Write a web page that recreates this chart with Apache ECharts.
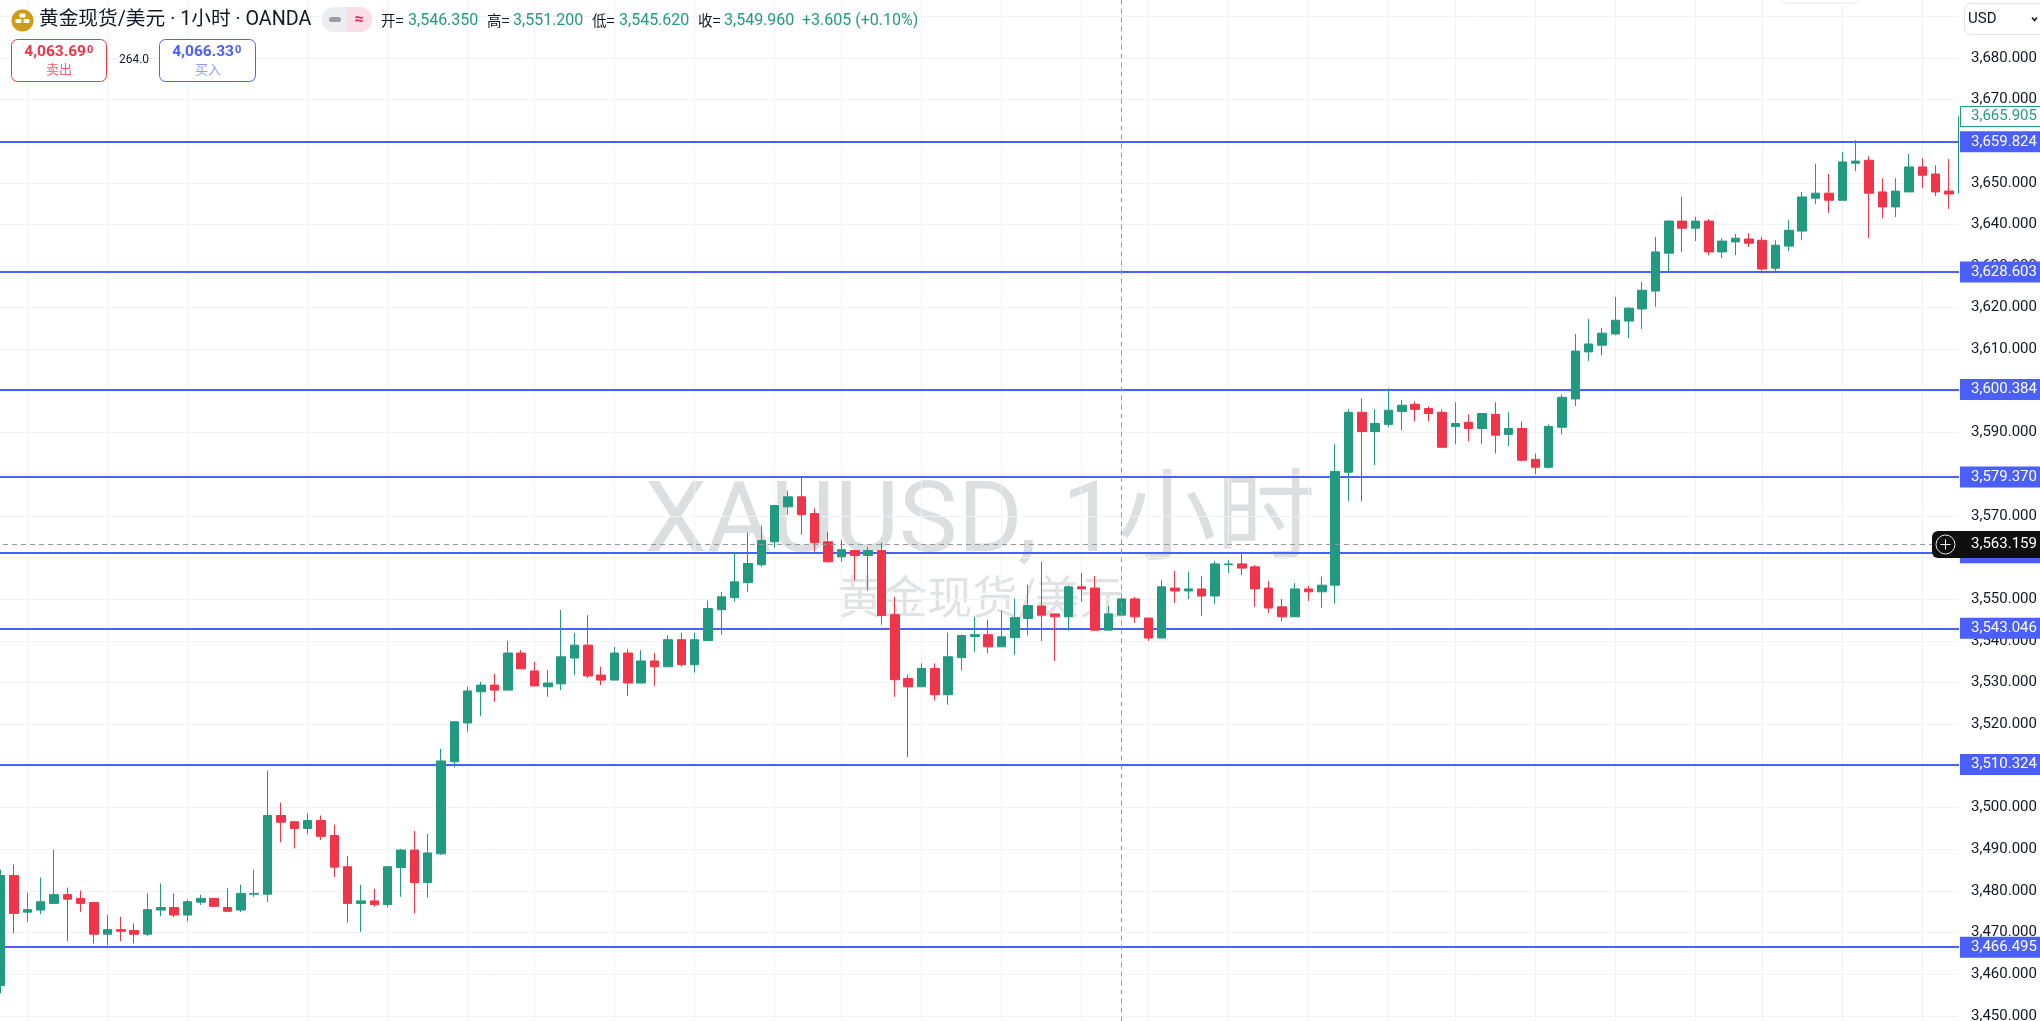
<!DOCTYPE html>
<html>
<head>
<meta charset="utf-8">
<style>html,body{margin:0;padding:0;background:#fff}#c{width:2040px;height:1021px}</style>
<script src="https://cdn.jsdelivr.net/npm/echarts@6/dist/echarts.min.js"></script>
</head>
<body>
<div id="c"></div>
<script>
// ---- data ----
const opens = [3457.3,3483.7,3474.9,3475.4,3477.0,3479.1,3478.2,3477.2,3469.6,3470.7,
3470.5,3469.6,3475.4,3476.0,3474.2,3477.3,3478.2,3476.0,3475.4,3479.2,
3479.2,3498.1,3496.6,3495.0,3496.9,3493.3,3485.8,3477.0,3477.6,3476.7,
3485.6,3489.8,3482.0,3488.9,3511.0,3520.3,3527.8,3529.4,3528.2,3537.1,
3532.8,3529.0,3529.7,3535.9,3539.0,3531.8,3530.6,3537.1,3529.9,3535.2,
3533.8,3540.3,3534.3,3540.1,3547.5,3550.4,3554.0,3558.3,3563.8,3572.2,
3574.6,3570.6,3563.8,3560.2,3561.7,3560.5,3561.7,3546.3,3531.0,3529.0,
3533.4,3527.1,3536.0,3541.1,3541.5,3538.6,3540.8,3545.4,3548.4,3546.5,
3545.8,3553.0,3552.7,3542.6,3546.2,3550.1,3545.5,3540.7,3552.7,3552.0,
3552.5,3550.8,3558.3,3558.5,3557.8,3552.7,3548.2,3545.8,3552.5,3551.8,
3553.4,3580.5,3594.9,3590.3,3592.0,3595.1,3596.8,3595.8,3594.9,3591.5,
3592.5,3591.0,3594.4,3589.6,3591.0,3583.6,3581.7,3591.3,3598.1,3609.4,
3611.0,3613.7,3616.8,3619.7,3624.0,3633.1,3640.8,3639.1,3640.8,3633.4,
3635.8,3636.5,3636.2,3629.5,3634.8,3638.4,3646.3,3647.5,3645.8,3654.7,
3655.4,3647.8,3644.2,3647.8,3653.8,3652.1,3648.0,3647.5];
const closes = [3483.7,3474.6,3475.5,3477.4,3479.1,3478.0,3477.0,3469.6,3470.7,3470.3,
3469.6,3475.5,3476.0,3474.2,3477.4,3478.2,3476.3,3475.1,3479.4,3479.4,
3498.1,3496.5,3495.0,3496.9,3493.1,3485.7,3477.0,3477.6,3476.7,3485.8,
3489.8,3482.0,3489.1,3511.2,3520.6,3528.0,3529.4,3528.2,3537.1,3533.3,
3529.2,3529.9,3536.2,3539.0,3531.6,3530.6,3537.1,3529.9,3535.2,3533.8,
3540.3,3534.3,3540.3,3547.8,3550.6,3554.2,3558.6,3564.1,3572.5,3574.6,
3570.3,3563.6,3559.0,3561.9,3560.5,3561.7,3546.1,3530.7,3529.0,3533.4,
3527.1,3536.2,3541.3,3541.5,3538.6,3541.0,3545.6,3548.5,3546.2,3545.8,
3553.0,3552.5,3542.6,3546.5,3550.1,3545.8,3540.7,3553.0,3552.0,3552.5,
3550.8,3558.5,3558.5,3557.5,3552.5,3547.9,3545.8,3552.5,3551.8,3553.4,
3580.7,3594.9,3590.3,3592.2,3595.4,3596.6,3595.6,3594.6,3586.5,3592.2,
3591.0,3594.6,3589.4,3591.0,3583.4,3581.7,3591.5,3598.5,3609.6,3611.3,
3613.9,3617.0,3619.9,3624.2,3633.4,3640.8,3639.1,3640.8,3633.4,3636.0,
3636.7,3635.5,3629.3,3635.0,3638.6,3646.6,3647.5,3645.8,3655.0,3655.2,
3647.5,3644.2,3648.0,3653.8,3651.8,3647.8,3647.3,3665.905];
const lows = [3455.4,3469.8,3472.5,3474.4,3477.0,3467.9,3474.9,3467.4,3466.9,3467.9,
3467.4,3469.1,3473.9,3473.7,3472.7,3476.6,3476.3,3475.1,3474.9,3478.5,
3477.3,3491.7,3490.2,3493.6,3492.2,3483.3,3472.4,3470.2,3476.2,3476.0,
3478.6,3474.6,3478.4,3488.6,3509.6,3518.2,3522.0,3525.4,3528.2,3533.3,
3529.2,3526.6,3528.2,3531.8,3531.1,3529.4,3530.6,3526.8,3529.9,3529.2,
3533.8,3533.8,3532.4,3540.1,3541.5,3549.4,3551.8,3557.8,3562.4,3570.3,
3565.5,3561.4,3559.0,3559.0,3554.5,3552.1,3543.9,3526.6,3512.1,3529.0,
3525.7,3524.7,3532.9,3537.4,3537.0,3538.6,3536.7,3541.3,3540.0,3535.2,
3542.4,3549.4,3542.6,3542.6,3546.2,3544.3,3540.0,3540.7,3549.1,3550.1,
3546.0,3548.9,3556.3,3555.8,3548.2,3546.7,3544.8,3545.8,3549.6,3547.9,
3549.0,3573.5,3573.5,3582.2,3591.3,3590.6,3592.7,3592.7,3586.5,3587.2,
3587.9,3587.2,3585.0,3586.7,3583.1,3580.0,3581.4,3589.6,3596.4,3607.2,
3608.6,3613.4,3612.7,3614.9,3620.2,3628.6,3633.4,3636.0,3632.6,3631.9,
3632.6,3634.6,3628.8,3628.8,3633.6,3636.2,3644.9,3642.7,3645.8,3652.8,
3636.7,3641.5,3641.8,3647.8,3648.7,3646.8,3643.7,3647.5];
const highs = [3485.1,3486.3,3479.6,3483.2,3489.9,3480.8,3480.1,3477.2,3474.3,3473.8,
3472.2,3479.4,3481.8,3479.4,3477.9,3479.1,3478.2,3480.6,3481.5,3485.1,
3508.9,3501.2,3496.6,3498.6,3498.1,3495.9,3488.4,3481.4,3480.5,3486.0,
3490.1,3494.4,3493.7,3514.1,3520.6,3529.0,3530.2,3532.1,3540.0,3537.8,
3535.0,3533.0,3547.4,3541.9,3546.2,3533.8,3538.6,3538.1,3537.8,3537.1,
3541.4,3542.0,3542.0,3549.7,3551.8,3561.4,3566.0,3567.7,3572.7,3576.1,
3579.4,3571.8,3566.2,3564.3,3561.9,3562.6,3563.6,3550.6,3531.9,3534.6,
3534.6,3542.0,3541.5,3545.8,3545.1,3547.3,3550.2,3553.5,3559.0,3546.5,
3553.4,3556.3,3555.6,3548.4,3550.1,3550.6,3545.5,3554.6,3556.8,3556.6,
3555.6,3559.2,3559.4,3561.4,3558.2,3554.4,3550.1,3553.9,3553.2,3555.4,
3587.2,3595.6,3598.2,3595.6,3600.6,3597.8,3597.5,3596.3,3595.6,3597.3,
3594.4,3594.6,3597.3,3594.9,3592.7,3585.0,3592.0,3599.2,3613.7,3617.3,
3615.1,3622.6,3620.2,3626.2,3637.0,3641.0,3646.6,3641.8,3641.3,3636.7,
3637.7,3637.9,3637.0,3636.2,3641.0,3647.8,3654.5,3652.1,3657.4,3660.2,
3656.4,3651.1,3651.1,3656.9,3655.9,3654.2,3655.7,3665.905];
const categories = opens.map((_, i) => String(i));
const levelPrices = [3659.824, 3628.603, 3600.384, 3579.370, 3561.2, 3543.046, 3510.324, 3466.495];
const lastPrice = 3665.905;
const crossPrice = 3563.159;
const crossIndex = 84;
const gridIndexes = [2,8,14,23,29,35,40,46,52,58,63,69,75,81,86,92,98,104,109,115,121,127,132,138,144];
const legendLabels = ['开=','高=','低=','收='];
const legendValues = ['3,546.350','3,551.200','3,545.620','3,549.960'];
const legendChange = '+3.605 (+0.10%)';
const titleText = '黄金现货/美元 · 1小时 · OANDA';

// ---- style ----
const UP='#229a80', DOWN='#ef3549', BLUE='#4a5ffb', GRID='#f1f2f5', INK='#131722';
const LAT='Roboto, "Noto Sans CJK SC", sans-serif';
const CJK='"Noto Sans CJK SC", Roboto, sans-serif';
const fmt = v => v.toLocaleString('en-US',{minimumFractionDigits:3,maximumFractionDigits:3});

const tags = levelPrices.map(p=>({value:[0,p],kind:'level'}))
  .concat([{value:[0,lastPrice],kind:'last'},{value:[0,crossPrice],kind:'cross'}]);

function renderTag(params, api){
  const t = tags[params.dataIndex];
  const y = api.coord([0, api.value(1)])[1];
  const label = fmt(api.value(1));
  const kids = [];
  const tx = {type:'text',style:{x:1971,y:y,text:label,font:'15px Roboto',verticalAlign:'middle',fill:'#fff'}};
  if(t.kind==='level'){
    kids.push({type:'rect',shape:{x:1960,y:y-10.5,width:80,height:21},style:{fill:BLUE}},tx);
  }else if(t.kind==='last'){
    tx.style.fill=UP;
    kids.push({type:'rect',shape:{x:1960.5,y:y-10,width:82,height:20},style:{fill:'#fff',stroke:UP,lineWidth:1}},tx);
  }else{
    kids.push({type:'rect',shape:{x:1932,y:y-13.5,width:28,height:27,r:[6,0,0,6]},style:{fill:'#0f0f0f'}});
    kids.push({type:'rect',shape:{x:1960,y:y-13.5,width:80,height:27},style:{fill:'#0f0f0f'}});
    kids.push({type:'circle',shape:{cx:1945.5,cy:y,r:9.5},style:{fill:'none',stroke:'#e8e8e8',lineWidth:1}});
    kids.push({type:'line',shape:{x1:1940.5,y1:y,x2:1950.5,y2:y},style:{stroke:'#fff',lineWidth:1}});
    kids.push({type:'line',shape:{x1:1945.5,y1:y-5,x2:1945.5,y2:y+5},style:{stroke:'#fff',lineWidth:1}});
    kids.push(tx);
  }
  return {type:'group',children:kids};
}

const txt=(x,y,text,font,fill,align)=>({type:'text',z:20,x:x,y:y,silent:true,
  style:{text:text,font:font,fill:fill,align:align||'left',verticalAlign:'middle'}});
const rect=(x,y,w,h,r,fill,stroke)=>({type:'rect',z:20,silent:true,shape:{x:x,y:y,width:w,height:h,r:r},
  style:{fill:fill,stroke:stroke||null,lineWidth:1}});

const legendX=[381,487,592,698], legendVX=[408,513,619,724];
const graphics = [
  // watermark
  {type:'text',z:0,silent:true,x:980,y:526,style:{text:'XAUUSD, 1小时',font:'400 99px '+LAT,fill:'#dcdee0',align:'center',verticalAlign:'middle'}},
  {type:'text',z:0,silent:true,x:981,y:597,style:{text:'黄金现货/美元',font:'400 45px '+CJK,fill:'#e0e2e4',align:'center',verticalAlign:'middle'}},
  // right price-scale panel
  {type:'rect',z:4,silent:true,shape:{x:1959,y:0,width:81,height:1021},style:{fill:'#fff'}},
  // header
  {type:'circle',z:20,silent:true,shape:{cx:22.5,cy:20.5,r:11},style:{fill:'#d19a1a'}},
  rect(19.5,13.5,6,4,1,'#fff'),rect(15.5,19,6,4,1,'#fff'),rect(23.5,19,6,4,1,'#fff'),
  txt(39,20.5,titleText,'19.7px '+LAT,INK),
  rect(322,7,50,25,12,'#ecedf0'),
  {type:'rect',z:20,silent:true,shape:{x:347,y:7,width:25,height:25,r:[0,12,12,0]},style:{fill:'#fbdde6'}},
  rect(329,17,12,5,2.5,'#9a9ea6'),
  txt(359,20,'≈','bold 16px '+LAT,'#e91e63','center'),
  // trade boxes
  rect(11.5,39.5,95,42,6,'#fff','#f23645'),
  txt(86,52,'4,063.69','bold 15.5px '+LAT,'#ef3549','right'),
  txt(87,50,'0','bold 11px '+LAT,'#ef3549'),
  txt(59,69,'卖出','13px '+CJK,'#f2606c','center'),
  txt(134,60,'264.0','12px '+LAT,INK,'center'),
  rect(159.5,39.5,96,42,6,'#fff','#4a5ffb'),
  txt(234,52,'4,066.33','bold 15.5px '+LAT,'#4a5ffb','right'),
  txt(235,50,'0','bold 11px '+LAT,'#4a5ffb'),
  txt(208,69,'买入','13px '+CJK,'#8c9aff','center'),
  txt(802,20.5,legendChange,'16px '+LAT,UP),
  // currency button and toolbar edge
  rect(1964.5,3.5,90,31,6,'#fff','#e0e3eb'),
  txt(1968,19,'USD','15px '+LAT,INK),
  {type:'polyline',z:20,silent:true,shape:{points:[[2032,17.5],[2034.5,20.5],[2037,17.5]]},style:{fill:'none',stroke:INK,lineWidth:1.5}},
  rect(1781.5,-10,77,13,5,'#fff','#e6e8ee')
];
legendLabels.forEach((t,i)=>{
  graphics.push(txt(legendX[i],20.5,t,'14.5px '+CJK,INK));
  graphics.push(txt(legendVX[i],20.5,legendValues[i],'16px '+LAT,UP));
});

const chart = echarts.init(document.getElementById('c'),null,{renderer:'canvas'});
chart.setOption({
  animation:false,
  backgroundColor:'#fff',
  grid:{left:-6,top:-25.5,width:1975.06,height:1083,containLabel:false,show:false,outerBoundsMode:'none'},
  xAxis:{type:'category',data:categories,axisLine:{show:false},axisTick:{show:false},axisLabel:{show:false},splitLine:{show:false}},
  yAxis:[
    {type:'value',position:'right',min:3440,max:3700,interval:10,z:0,
     axisLine:{show:false},axisTick:{show:false},axisLabel:{show:false},
     splitLine:{show:true,lineStyle:{color:GRID,width:1}}},
    {type:'value',position:'right',min:3440,max:3700,interval:10,z:4.5,
     axisLine:{show:false},axisTick:{show:false},splitLine:{show:false},
     axisLabel:{show:true,margin:2,showMinLabel:false,showMaxLabel:false,color:INK,fontFamily:'Roboto',fontSize:15,
       formatter:v=>v===3690?'':fmt(v)}}
  ],
  graphic:graphics,
  series:[
    {type:'candlestick',z:2,barWidth:9,clip:true,
     data:opens.map((o,i)=>[o,closes[i],lows[i],highs[i]]),
     itemStyle:{color:UP,color0:DOWN,borderColor:UP,borderColor0:DOWN,borderWidth:1},
     silent:true,
     markLine:{silent:true,symbol:'none',z:1,label:{show:false},
       data:gridIndexes.map(i=>({xAxis:i,lineStyle:{color:GRID,width:1,type:'solid'}}))
         .concat(levelPrices.map(p=>({yAxis:p,lineStyle:{color:BLUE,width:2,type:'solid'}})))}
    },
    {type:'line',z:3,data:[],silent:true,
     markLine:{silent:true,symbol:'none',z:3,label:{show:false},
       lineStyle:{color:'#9598a1',width:1,type:[5,4]},
       data:[{yAxis:crossPrice},{xAxis:crossIndex}]}
    },
    {type:'custom',z:5,silent:true,clip:false,renderItem:renderTag,
     data:tags.map(t=>t.value),encode:{x:0,y:1}}
  ]
});
</script>
</body>
</html>
